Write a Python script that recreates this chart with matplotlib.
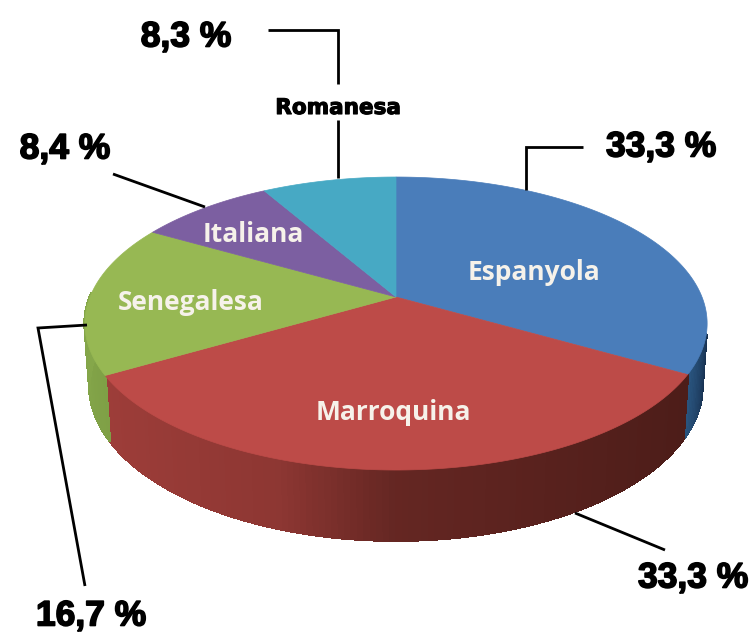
import numpy as np
import matplotlib.pyplot as plt
import matplotlib.patheffects as pe
from matplotlib.colors import to_rgb
from matplotlib.collections import PolyCollection

names = ['Espanyola', 'Marroquina', 'Senegalesa', 'Italiana', 'Romanesa']
shares = [33.3, 33.3, 16.7, 8.4, 8.3]
pct_labels = ['33,3 %', '33,3 %', '16,7 %', '8,4 %', '8,3 %']
top_colors = ['#4a7dba', '#bd4b48', '#97b853', '#7c5fa1', '#47a9c4']
side_colors = [('#2a5580', '#17304f'), ('#9d3d39', '#4d1d19'), ('#7fa046', '#86a84b')]

# pie geometry in pixels, the perspective is a simple projective map of the circle
cx, cy = 396, 297
A, B, k = 306, 141.7, 0.181
depth, ys, xs = 60, 1.06, 0.985


def project(t):
    sx, sy = np.sin(t), -np.cos(t)
    w = 1 - k * sy
    return A * sx / w, B * sy / w


def top_xy(t):
    x, y = project(t)
    return cx + x, cy + y


def low_xy(t):
    x, y = project(t)
    return cx + xs * x, cy + depth + ys * y


fig = plt.figure(figsize=(7.55, 6.32), dpi=100)
ax = fig.add_axes([0, 0, 1, 1])
ax.set_xlim(0, 755)
ax.set_ylim(632, 0)
ax.axis('off')

edges = np.radians(np.cumsum([0] + shares) / np.sum(shares) * 360)

# side wall, thin strips so the shading runs along the rim
for i in range(3):
    tt = np.linspace(edges[i], edges[i + 1], 120)
    if i == 0:
        tt = tt[tt > np.radians(104)]
    if i == 2:
        tt = tt[tt < np.radians(272)]
    c0 = np.array(to_rgb(side_colors[i][0]))
    c1 = np.array(to_rgb(side_colors[i][1]))
    polys, cols = [], []
    for a, b in zip(tt[:-1], tt[1:]):
        xa, ya = top_xy(a)
        xb, yb = top_xy(b)
        xc, yc = low_xy(b)
        xd, yd = low_xy(a)
        polys.append([(xa, ya), (xb, yb), (xc, yc), (xd, yd)])
        if i == 1:
            # red goes dark quickly, then stays flat on the right
            f = np.interp((xa - 105) / 580, [0, 0.3, 0.5, 1], [0, 0.2, 0.7, 1])
        else:
            f = (a - tt[0]) / (tt[-1] - tt[0])
            if i == 0:
                f = 1 - f
        cols.append(c0 + (c1 - c0) * f)
    # wide edge, so neighbouring strips leave no seams
    ax.add_collection(PolyCollection(polys, facecolors=cols, edgecolors=cols, linewidths=1.5,
                                     antialiaseds=False))

# top face
for i in range(len(shares)):
    tt = np.linspace(edges[i], edges[i + 1], 150)
    x, y = top_xy(tt)
    ax.fill(np.r_[cx, x], np.r_[cy, y], color=top_colors[i], lw=0.5)

# leader lines
lead = dict(color='black', lw=2, solid_capstyle='butt', solid_joinstyle='miter')
ax.plot([268, 338, 338], [30, 30, 84], **lead)
ax.plot([338, 338], [120, 178], **lead)
ax.plot([113, 205], [174, 207], **lead)
ax.plot([583, 526, 526], [147, 147, 190], **lead)
ax.plot([575, 665], [513, 550], **lead)
ax.plot([87, 38, 85], [325, 328, 586], **lead)

# category labels
name_pos = [(534, 273), (393, 413), (191, 303), (253, 234), (338, 108)]
for i, name in enumerate(names):
    if name == 'Romanesa':
        ax.text(*name_pos[i], name, ha='center', va='center', family='DejaVu Sans', weight='bold',
                fontsize=15.5, color='black',
                path_effects=[pe.withStroke(linewidth=0.8, foreground='black')])
    else:
        ax.text(*name_pos[i], name, ha='center', va='center', family='Open Sans', weight='bold',
                fontsize=19, color='#f6f2ea')

# percentage labels
pct_pos = [(661, 147), (693, 578), (91, 616), (65, 149), (186, 37)]
for i, lab in enumerate(pct_labels):
    ax.text(*pct_pos[i], lab, ha='center', va='center', family='Liberation Sans', weight='bold',
            fontsize=25.5, color='black',
            path_effects=[pe.withStroke(linewidth=1.2, foreground='black')])

fig.savefig('out.png', dpi=100, facecolor='white')
